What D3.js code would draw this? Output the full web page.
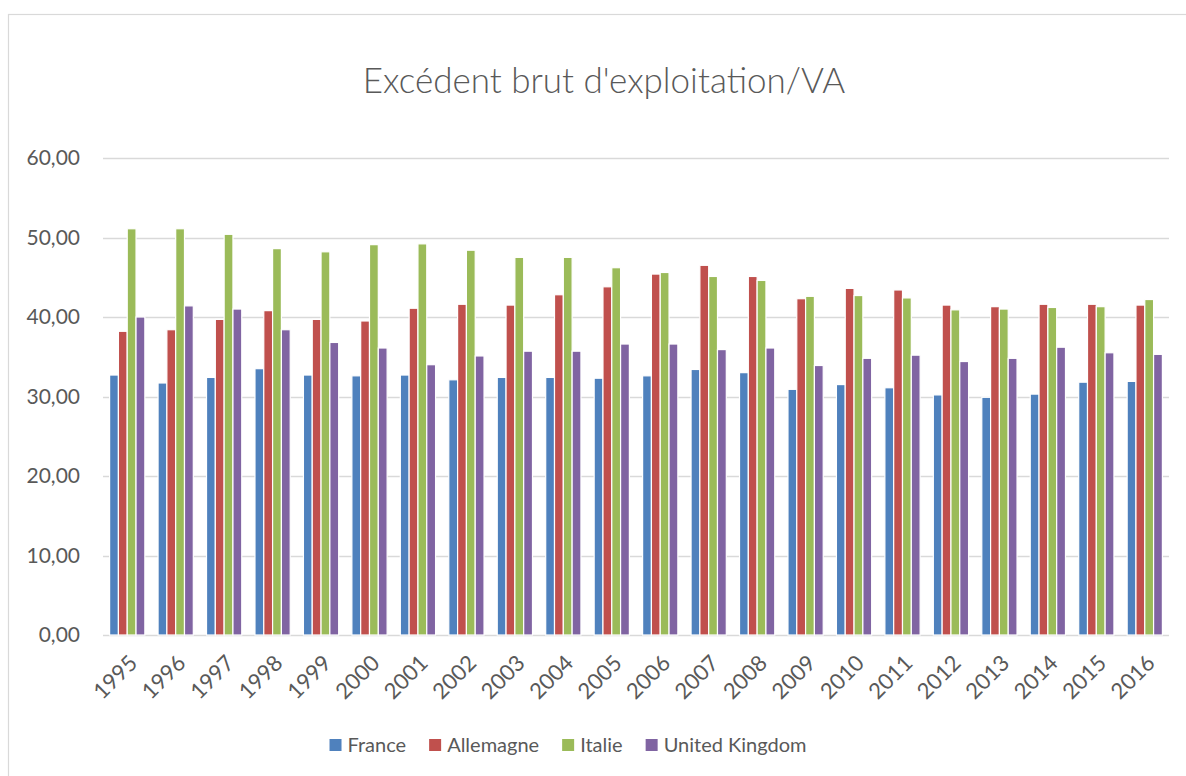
<!DOCTYPE html>
<html>
<head>
<meta charset="utf-8">
<script src="https://cdn.jsdelivr.net/npm/d3@7"></script>
<style>
  body { margin: 0; background: #fff; }
  svg { display: block; font-family: Lato, "Open Sans", sans-serif; }
</style>
</head>
<body>
<svg id="chart" width="1186" height="776"></svg>
<script>
// Data
const years = ["1995", "1996", "1997", "1998", "1999", "2000", "2001", "2002", "2003", "2004", "2005",
               "2006", "2007", "2008", "2009", "2010", "2011", "2012", "2013", "2014", "2015", "2016"];
const countries = ["France", "Allemagne", "Italie", "United Kingdom"];
const colors = ["#4F81BD", "#C0504D", "#9BBB59", "#8064A2"];

const france    = [32.7, 31.7, 32.4, 33.5, 32.7, 32.6, 32.7, 32.1, 32.4, 32.4, 32.3,
                   32.6, 33.4, 33.0, 30.9, 31.5, 31.1, 30.2, 29.9, 30.3, 31.8, 31.9];
const allemagne = [38.2, 38.4, 39.7, 40.8, 39.7, 39.5, 41.1, 41.6, 41.5, 42.8, 43.8,
                   45.4, 46.5, 45.1, 42.3, 43.6, 43.4, 41.5, 41.3, 41.6, 41.6, 41.5];
const italie    = [51.1, 51.1, 50.4, 48.6, 48.2, 49.1, 49.2, 48.4, 47.5, 47.5, 46.2,
                   45.6, 45.1, 44.6, 42.6, 42.7, 42.4, 40.9, 41.0, 41.2, 41.3, 42.2];
const uk        = [40.0, 41.4, 41.0, 38.4, 36.8, 36.1, 34.0, 35.1, 35.7, 35.7, 36.6,
                   36.6, 35.9, 36.1, 33.9, 34.8, 35.2, 34.4, 34.8, 36.2, 35.5, 35.3];
const series = [france, allemagne, italie, uk];
const yTicks = [0, 10, 20, 30, 40, 50, 60];

const svg = d3.select("#chart");
const textColor = "#595959";
const gridColor = "#D9D9D9";

// Chart frame
svg.append("rect")
    .attr("x", 8.5).attr("y", 14.5)
    .attr("width", 1200).attr("height", 800)
    .attr("fill", "#fff")
    .attr("stroke", gridColor).attr("stroke-width", 1.2);

// Plot area
const plot = { left: 103, right: 1169, top: 158, bottom: 635 };

const x = d3.scaleBand().domain(years).range([plot.left, plot.right]).padding(0);
const y = d3.scaleLinear().domain([0, 60]).range([plot.bottom, plot.top]);
// Excel-like grouping: gap width 150% of a bar
const barW = x.bandwidth() / 5.5;
const xInner = d3.scaleBand().domain(d3.range(countries.length))
    .range([0, barW * 4]);

// Title
svg.append("text")
    .attr("x", 604).attr("y", 93)
    .attr("text-anchor", "middle")
    .attr("font-size", 35)
    .attr("font-weight", 300)
    .attr("fill", textColor)
    .text("Excédent brut d'exploitation/VA");

// Gridlines
svg.append("g").selectAll("line")
    .data(yTicks)
    .join("line")
    .attr("x1", plot.left).attr("x2", plot.right)
    .attr("y1", d => Math.round(y(d)) + 0.5).attr("y2", d => Math.round(y(d)) + 0.5)
    .attr("stroke", gridColor).attr("stroke-width", 1.5);

// Y axis labels
const yAxis = svg.append("g")
    .attr("transform", `translate(${plot.left - 23},0)`)
    .call(d3.axisLeft(y).tickValues(yTicks).tickSize(0).tickPadding(0)
        .tickFormat(d => d3.format(".2f")(d).replace(".", ",")));
yAxis.select(".domain").remove();
yAxis.selectAll("text")
    .attr("font-size", 21)
    .attr("font-family", "Lato, 'Open Sans', sans-serif")
    .attr("fill", textColor);

// Bars
const groups = svg.append("g").selectAll("g")
    .data(years)
    .join("g")
    .attr("transform", d => `translate(${x(d) + (x.bandwidth() - barW * 4) / 2},0)`);

groups.selectAll("rect")
    .data((yr, i) => series.map((s, k) => ({ k, v: s[i] })))
    .join("rect")
    .attr("x", d => xInner(d.k))
    .attr("y", d => y(d.v))
    .attr("width", xInner.bandwidth())
    .attr("height", d => y(0) - y(d.v))
    .attr("fill", d => colors[d.k])
    .attr("stroke", "#fff")
    .attr("stroke-width", 1.2);

// X axis labels (rotated)
const xAxis = svg.append("g")
    .attr("transform", `translate(0,${plot.bottom})`)
    .call(d3.axisBottom(x).tickSize(0).tickPadding(0));
xAxis.select(".domain").remove();
xAxis.selectAll("text")
    .attr("font-size", 22)
    .attr("font-family", "Lato, 'Open Sans', sans-serif")
    .attr("fill", textColor)
    .attr("text-anchor", "end")
    .attr("dy", null)
    .attr("transform", "translate(-1,17) rotate(-45)")
    .attr("y", 0)
    .attr("dominant-baseline", "hanging");

// Legend
const legend = svg.append("g");
let lx = 0;
countries.forEach((c, i) => {
    const g = legend.append("g");
    g.append("rect").attr("x", 0).attr("y", -6).attr("width", 12).attr("height", 12)
        .attr("fill", colors[i]);
    const t = g.append("text").attr("x", 18).attr("y", 0)
        .attr("dy", "0.35em")
        .attr("font-size", 20)
        .attr("fill", textColor)
        .text(c);
    const w = 18 + t.node().getComputedTextLength();
    g.attr("transform", `translate(${lx},0)`);
    lx += w + 23;
});
const legendW = lx - 23;
legend.attr("transform", `translate(${568 - legendW / 2},745)`);
</script>
</body>
</html>
